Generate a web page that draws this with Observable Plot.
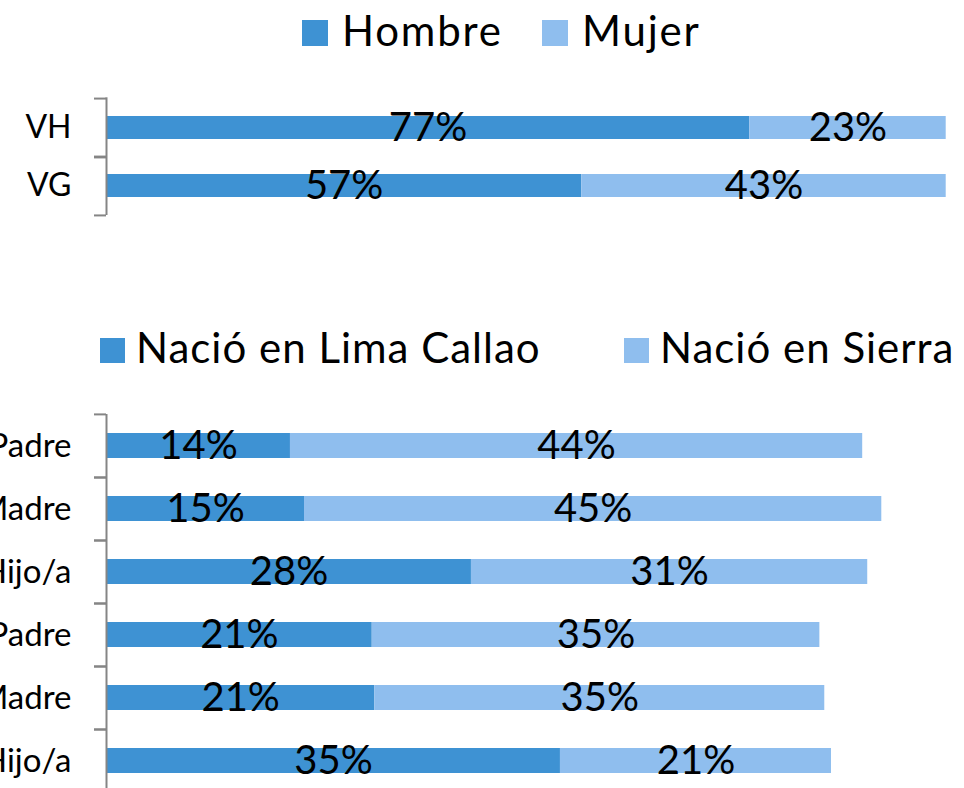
<!DOCTYPE html>
<html>
<head>
<meta charset="utf-8">
<script src="https://cdn.jsdelivr.net/npm/d3@7"></script>
<script src="https://cdn.jsdelivr.net/npm/@observablehq/plot@0.6"></script>
<style>
  html, body { margin: 0; padding: 0; background: #fff; overflow: hidden; }
  #root { position: relative; width: 964px; height: 788px; overflow: hidden; font-family: Lato, "Open Sans", sans-serif; color: #000; }
  .legend { position: absolute; left: 0; width: 964px; font-size: 42px; line-height: 38px; white-space: nowrap; }
  .item { position: absolute; top: 0; }
  .sw { display: inline-block; vertical-align: baseline; }
  .chart { position: absolute; left: 0; }
</style>
</head>
<body>
<div id="root"></div>
<script>
// ---- Data: top chart (sex) ----
const groupsTop = ["VH", "VG"];
const sexSeries = ["Hombre", "Mujer"];
const hombre = [76.6, 56.6];
const mujer = [23.4, 43.4];

// ---- Data: bottom chart (birthplace) ----
const rowIds = ["p1", "m1", "h1", "p2", "m2", "h2"];
const rowLabels = ["Padre", "Madre", "Hijo/a", "Padre", "Madre", "Hijo/a"];
const birthSeries = ["Nació en Lima Callao", "Nació en Sierra"];
const lima = [14.26, 15.35, 28.29, 20.60, 20.80, 35.19];
const sierra = [44.36, 44.75, 30.72, 34.70, 34.88, 21.01];

const dark = "#3E92D3";
const light = "#8FBEEE";
const axisGray = "#858585";
const font = "Lato, 'Open Sans', sans-serif";

const topData = groupsTop.flatMap((g, i) => [
  {group: g, series: sexSeries[0], value: hombre[i]},
  {group: g, series: sexSeries[1], value: mujer[i]}
]);
const botData = rowIds.flatMap((r, i) => [
  {row: r, series: birthSeries[0], value: lima[i]},
  {row: r, series: birthSeries[1], value: sierra[i]}
]);
const labelOf = Object.fromEntries(rowIds.map((r, i) => [r, rowLabels[i]]));

const root = document.getElementById("root");

function legend(items, colors, top, positions, swSize, gap, spacing) {
  const div = document.createElement("div");
  div.className = "legend";
  div.style.top = top + "px";
  div.style.letterSpacing = spacing + "px";
  items.forEach((name, i) => {
    const it = document.createElement("div");
    it.className = "item";
    it.style.left = positions[i] + "px";
    const sw = document.createElement("span");
    sw.className = "sw";
    sw.style.width = swSize + "px";
    sw.style.height = swSize + "px";
    sw.style.background = colors[i];
    sw.style.marginRight = gap + "px";
    it.appendChild(sw);
    it.appendChild(document.createTextNode(name));
    div.appendChild(it);
  });
  root.appendChild(div);
}

function chart({data, yKey, yDomain, xDomain, height, top, marginTop, marginBottom, marginRight, colorDomain, tickFormat, labelSize}) {
  const inner = height - marginTop - marginBottom;
  const step = inner / yDomain.length;
  const p = Plot.plot({
    width: 964,
    height,
    marginTop,
    marginBottom,
    marginLeft: 106,
    marginRight,
    style: {fontFamily: font, background: "transparent", overflow: "hidden"},
    x: {domain: xDomain, axis: null},
    y: {domain: yDomain, paddingInner: 0.6, paddingOuter: 0.3, axis: null, label: null},
    color: {domain: colorDomain, range: [dark, light]},
    marks: [
      Plot.barX(data, Plot.stackX({x: "value", y: yKey, fill: "series"})),
      Plot.text(data, Plot.stackX({
        x: "value", y: yKey, z: "series",
        text: d => Math.round(d.value) + "%",
        fontSize: 40, fill: "#000"
      })),
      Plot.ruleX([0], {stroke: axisGray, strokeWidth: 2}),
      Plot.axisY({tickSize: 12, tickFormat: () => "", label: null, dy: -step / 2, stroke: axisGray, strokeWidth: 2}),
      Plot.axisY({tickSize: 12, tickFormat: () => "", label: null, dy: step / 2, stroke: axisGray, strokeWidth: 2}),
      Plot.axisY({tickSize: 0, tickPadding: 35, tickFormat, label: null, fontSize: labelSize, fill: "#000"})
    ]
  });
  p.classList.add("chart");
  p.style.top = top + "px";
  root.appendChild(p);
}

// Top legend
legend(sexSeries, [dark, light], 10.5, [302, 542], 26, 14, 1.8);

// Top chart
chart({
  data: topData, yKey: "group", yDomain: groupsTop, xDomain: [0, 100],
  height: 180, top: 60, marginTop: 37.3, marginBottom: 25, marginRight: 18.3,
  colorDomain: sexSeries, tickFormat: d => d, labelSize: 32
});

// Bottom legend
legend(birthSeries, [dark, light], 327.5, [100, 624], 25, 11, 1.0);

// Bottom chart
chart({
  data: botData, yKey: "row", yDomain: rowIds, xDomain: [0, 65],
  height: 420, top: 380, marginTop: 34, marginBottom: 6.8, marginRight: 19.5,
  colorDomain: birthSeries, tickFormat: d => labelOf[d], labelSize: 33
});
</script>
</body>
</html>
